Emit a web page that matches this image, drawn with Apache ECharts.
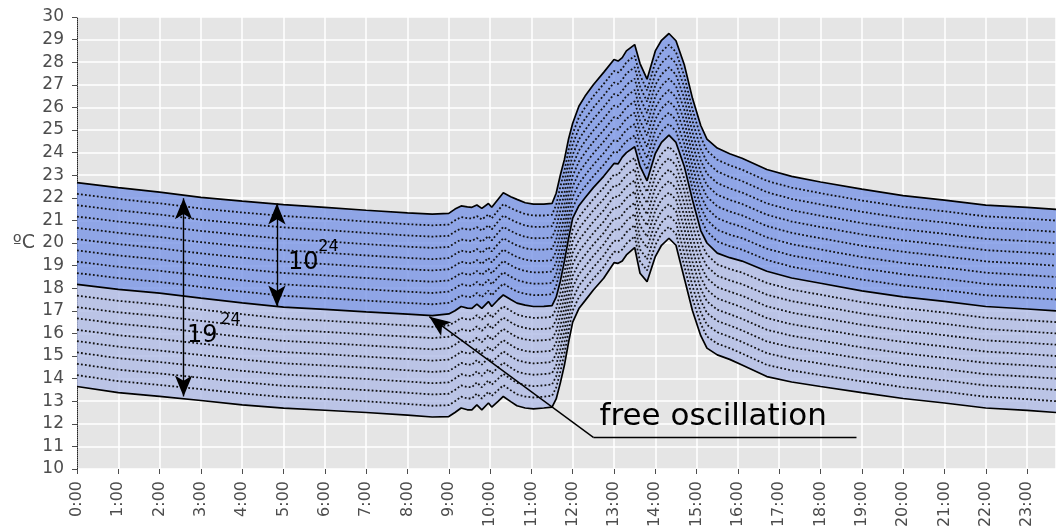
<!DOCTYPE html>
<html>
<head>
<meta charset="utf-8">
<script src="https://cdn.jsdelivr.net/npm/echarts@6/dist/echarts.min.js"></script>
<style>
html, body { margin: 0; padding: 0; background: #fff; }
#chart { width: 1056px; height: 531px; }
</style>
</head>
<body>
<div id="chart"></div>
<script>
// time of day in hours, shared by the three boundary curves
var hours = [0, 1, 2, 3, 4, 5, 6, 7, 8, 8.6, 9.0, 9.15, 9.3, 9.45, 9.56, 9.68, 9.8, 9.96, 10.04, 10.2, 10.32, 10.5, 10.65, 10.85, 11.05, 11.3, 11.5,
  11.6, 11.7, 11.8, 11.9, 12.0, 12.15, 12.3, 12.5, 12.75, 13.0, 13.1, 13.2, 13.3, 13.5, 13.63, 13.8, 14.0, 14.15, 14.33, 14.5, 14.7, 14.9,
  15.1, 15.25, 15.5, 15.8, 16.1, 16.7, 17.3, 18, 19, 20, 21, 22, 23, 23.7];

// upper boundary (ºC)
var upperTemp = [22.67, 22.45, 22.25, 22.02, 21.85, 21.70, 21.58, 21.45, 21.33, 21.28, 21.31, 21.5, 21.64, 21.6, 21.58, 21.68, 21.53, 21.75, 21.58, 21.95, 22.22, 22.05, 21.93, 21.78, 21.72, 21.72, 21.75,
  22.2, 23.0, 23.7, 24.6, 25.3, 26.05, 26.5, 27.0, 27.55, 28.12, 28.05, 28.2, 28.5, 28.78, 27.94, 27.25, 28.5, 28.97, 29.27, 28.95, 27.9, 26.4,
  25.2, 24.6, 24.2, 23.95, 23.75, 23.25, 22.95, 22.7, 22.38, 22.1, 21.9, 21.68, 21.58, 21.49];

// middle boundary (ºC)
var middleTemp = [18.17, 17.95, 17.78, 17.56, 17.35, 17.16, 17.06, 16.95, 16.85, 16.79, 16.86, 17.0, 17.19, 17.12, 17.11, 17.3, 17.11, 17.41, 17.19, 17.5, 17.7, 17.5, 17.34, 17.25, 17.19, 17.2, 17.23,
  17.6, 18.3, 19.2, 20.2, 21.1, 21.65, 22.0, 22.45, 22.95, 23.52, 23.5, 23.8, 24.0, 24.26, 23.4, 22.75, 23.96, 24.45, 24.77, 24.45, 23.4, 21.9,
  20.55, 20.0, 19.55, 19.35, 19.2, 18.75, 18.45, 18.22, 17.88, 17.62, 17.42, 17.19, 17.08, 17.0];

// lower boundary (ºC)
var lowerTemp = [13.65, 13.38, 13.21, 13.03, 12.84, 12.69, 12.6, 12.5, 12.38, 12.3, 12.32, 12.5, 12.7, 12.62, 12.62, 12.84, 12.62, 12.92, 12.74, 13.0, 13.21, 12.98, 12.8, 12.7, 12.66, 12.7, 12.74,
  13.1, 13.8, 14.6, 15.6, 16.5, 17.1, 17.45, 17.92, 18.44, 19.13, 19.1, 19.2, 19.47, 19.8, 18.66, 18.29, 19.4, 19.9, 20.21, 19.9, 18.45, 17.0,
  15.9, 15.35, 15.05, 14.85, 14.6, 14.09, 13.85, 13.65, 13.38, 13.12, 12.92, 12.7, 12.59, 12.5];

// number of equal steps each band is split into by the dotted lines
var bandSteps = 9;

var chart = echarts.init(document.getElementById('chart'));

function pairs(vals) {
  return hours.map(function (h, i) { return [h, vals[i]]; });
}

// band between two curves, drawn as one polygon through the axes' scales
function bandSeries(top, bottom, color) {
  return {
    type: 'custom', coordinateSystem: 'cartesian2d', silent: true, z: 1,
    data: [[0, 20]],
    renderItem: function (params, api) {
      var pts = [];
      for (var i = 0; i < hours.length; i++) pts.push(api.coord([hours[i], top[i]]));
      for (var j = hours.length - 1; j >= 0; j--) pts.push(api.coord([hours[j], bottom[j]]));
      return { type: 'polygon', shape: { points: pts }, style: { fill: color } };
    }
  };
}

var series = [];
series.push(bandSeries(middleTemp, lowerTemp, 'rgba(176,188,230,0.8)'));
series.push(bandSeries(upperTemp, middleTemp, 'rgba(121,149,230,0.8)'));

// dotted lines inside each band
[[lowerTemp, middleTemp], [middleTemp, upperTemp]].forEach(function (band) {
  for (var k = 1; k < bandSteps; k++) {
    var vals = band[0].map(function (v, i) { return v + (band[1][i] - v) * k / bandSteps; });
    series.push({ type: 'line', data: pairs(vals), symbol: 'none', silent: true, z: 2,
      lineStyle: { color: '#111', width: 1.8, type: [1.8, 2.2] } });
  }
});

// solid boundary lines
[lowerTemp, middleTemp, upperTemp].forEach(function (vals) {
  series.push({ type: 'line', data: pairs(vals), symbol: 'none', silent: true, z: 3,
    lineStyle: { color: '#000', width: 1.7 } });
});

// arrows
var arrowEnd = { symbol: 'arrow', symbolSize: [13, 21] };
series[series.length - 1].markLine = {
  silent: true,
  animation: false,
  label: { show: false },
  lineStyle: { color: '#000', width: 1.4, type: 'solid' },
  data: [
    [Object.assign({ coord: [2.58, 21.98] }, arrowEnd), Object.assign({ coord: [2.58, 13.21] }, arrowEnd)],
    [Object.assign({ coord: [4.84, 21.75] }, arrowEnd), Object.assign({ coord: [4.84, 17.19] }, arrowEnd)],
    [{ coord: [12.5, 11.4], symbol: 'none' }, { coord: [18.87, 11.4], symbol: 'none' }],
    [{ coord: [12.5, 11.4], symbol: 'none' }, Object.assign({ coord: [8.53, 16.74] }, arrowEnd)]
  ]
};

var option = {
  animation: false,
  grid: {
    left: 77, top: 17, right: 0, bottom: 62,
    show: true, backgroundColor: '#e5e5e5', borderWidth: 0
  },
  xAxis: {
    type: 'value', min: 0, max: 23.7, interval: 1,
    axisLine: { show: false },
    axisTick: { show: true, length: 5, lineStyle: { color: '#4d4d4d' } },
    axisLabel: {
      rotate: 90, margin: 12, color: '#4d4d4d', fontSize: 16, fontFamily: 'DejaVu Sans',
      showMaxLabel: false,
      formatter: function (v) { return v === Math.round(v) ? v + ':00' : ''; }
    },
    splitLine: { show: true, lineStyle: { color: '#fff', width: 1.5 } }
  },
  yAxis: {
    type: 'value', min: 10, max: 30, interval: 1,
    name: 'ºC', nameLocation: 'middle', nameRotate: 0, nameGap: 42,
    nameTextStyle: { color: '#4d4d4d', fontSize: 19, fontFamily: 'DejaVu Sans' },
    axisLine: { show: true, lineStyle: { color: '#222', width: 1, type: 'dotted' } },
    axisTick: { show: true, length: 5, lineStyle: { color: '#4d4d4d' } },
    axisLabel: { margin: 13, color: '#4d4d4d', fontSize: 17, fontFamily: 'DejaVu Sans' },
    splitLine: { show: true, lineStyle: { color: '#fff', width: 1.5 } }
  },
  series: series
};
chart.setOption(option);

// text annotations placed in data coordinates
var notes = [
  { text: '19', at: [2.66, 15.9], size: 24 },
  { text: '24', at: [3.47, 16.6], size: 16 },
  { text: '10', at: [5.11, 19.12], size: 24 },
  { text: '24', at: [5.84, 19.81], size: 16 },
  { text: 'free oscillation', at: [12.65, 12.31], size: 31 }
];
chart.setOption({
  graphic: notes.map(function (n) {
    var p = chart.convertToPixel({ gridIndex: 0 }, n.at);
    return {
      type: 'text', x: p[0], y: p[1], silent: true, z: 100,
      style: { text: n.text, fill: '#000', font: n.size + 'px "DejaVu Sans"', textVerticalAlign: 'middle', textAlign: 'left' }
    };
  })
});
window.addEventListener('resize', function () { chart.resize(); });
</script>
</body>
</html>
